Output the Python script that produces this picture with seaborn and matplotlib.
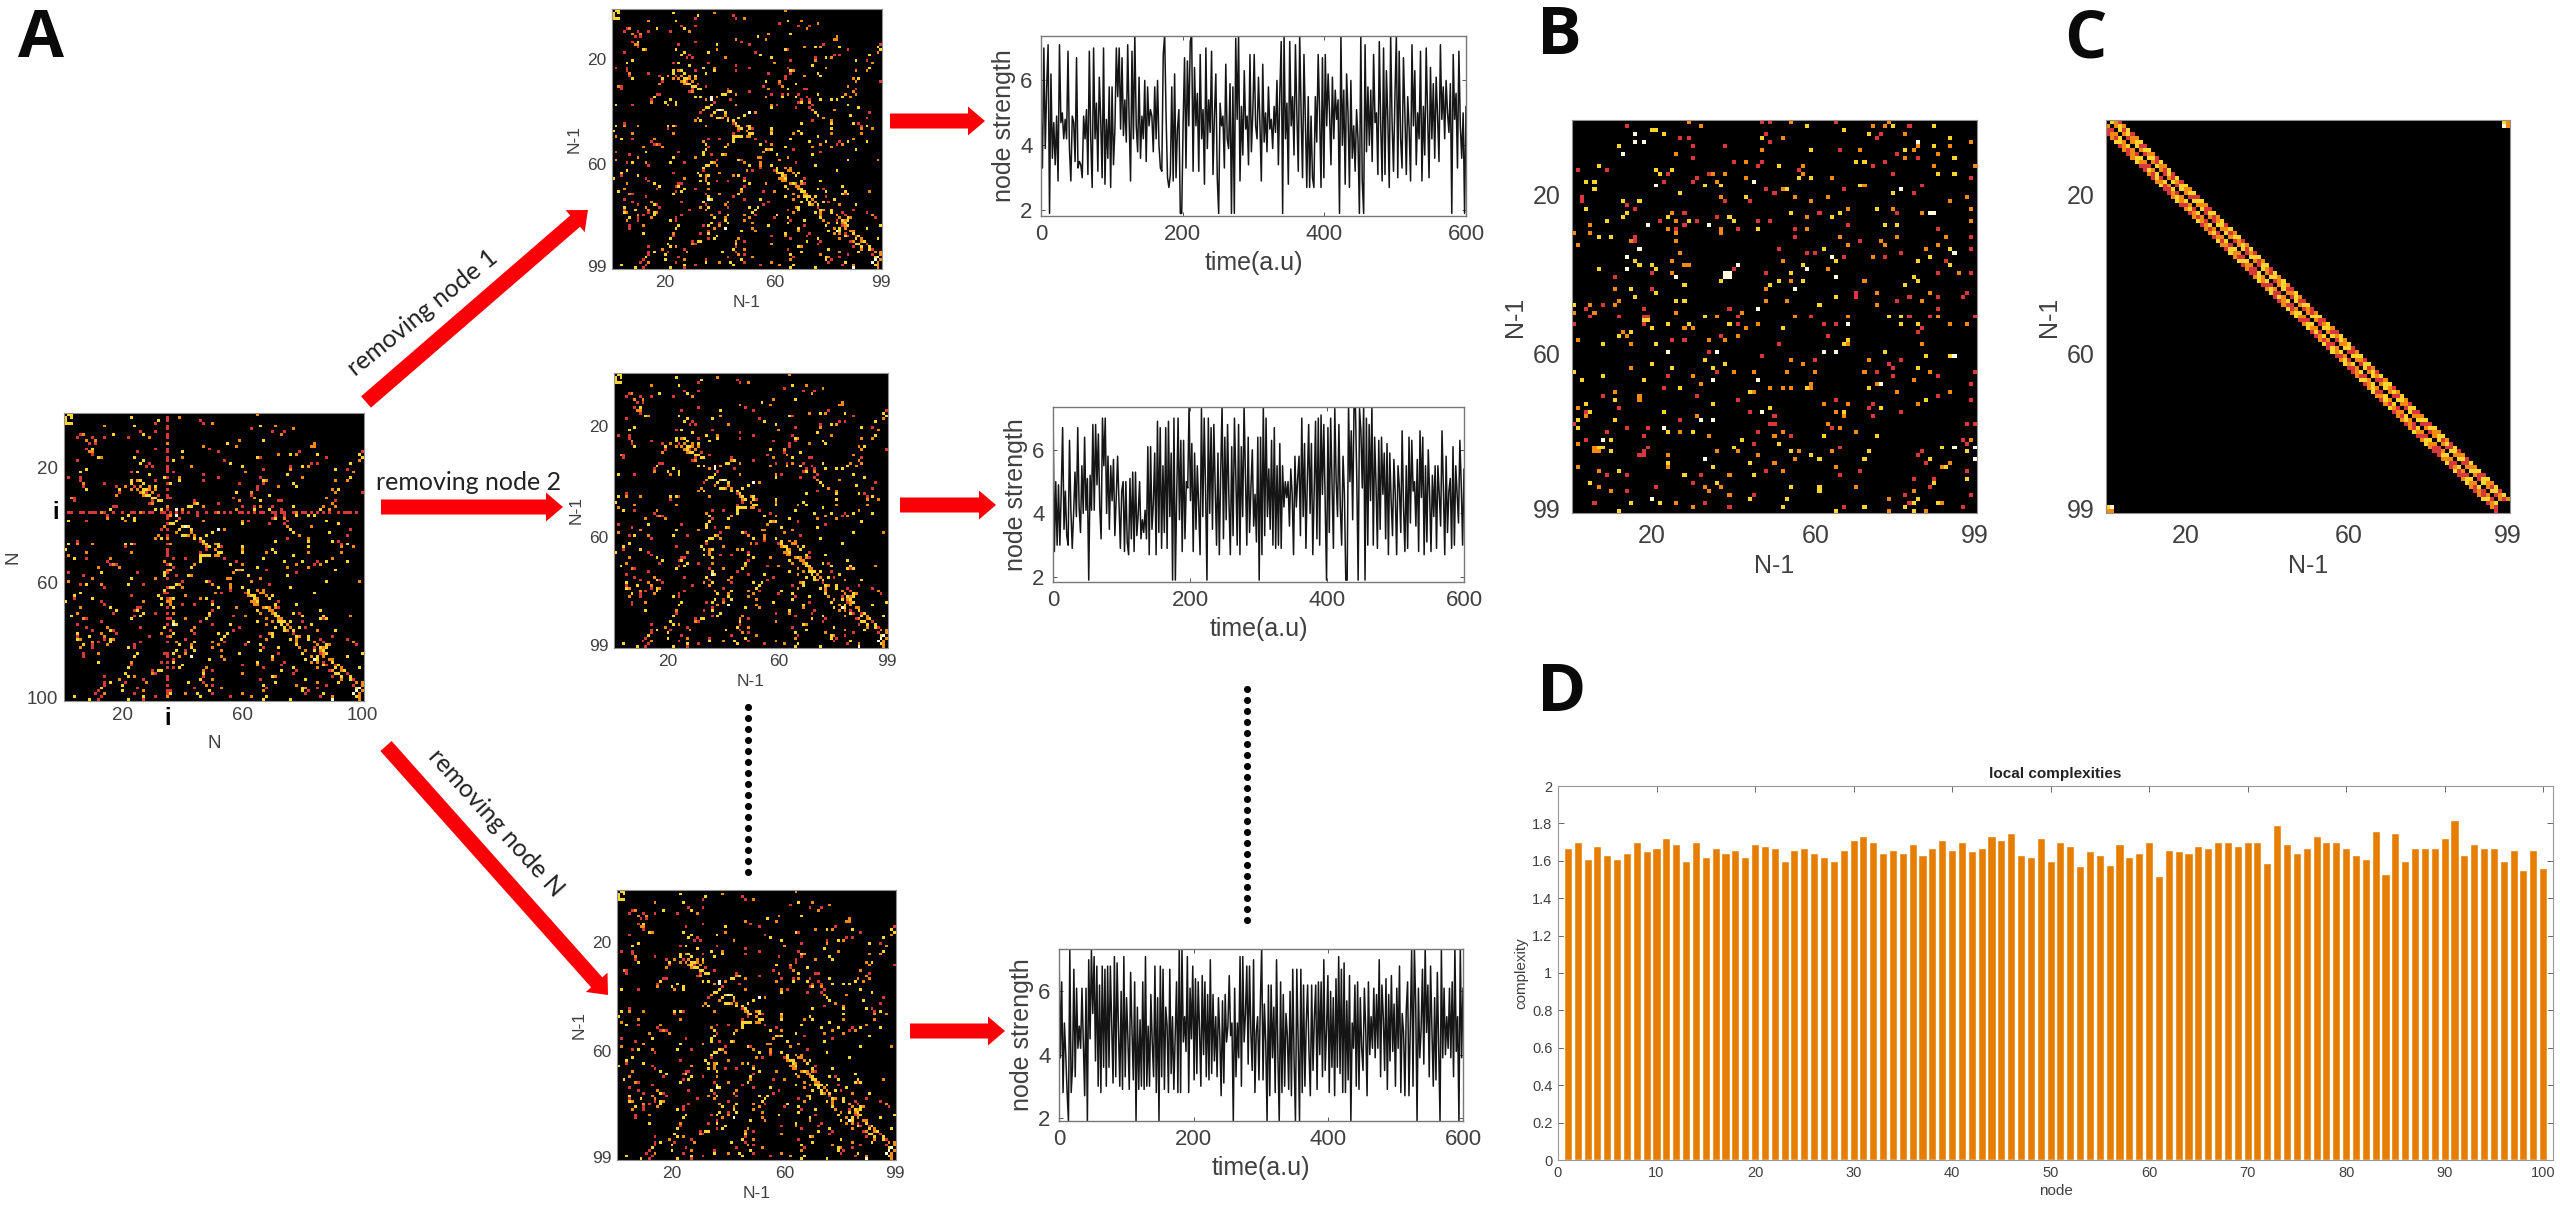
# Node removal figure: panels A-D
import numpy as np
import pandas as pd
import matplotlib
matplotlib.use('Agg')
import matplotlib.pyplot as plt
from matplotlib.colors import ListedColormap
from matplotlib.patches import FancyArrow
import seaborn as sns

sns.set_theme(style='white')
plt.rcParams['font.family'] = ['Liberation Sans', 'DejaVu Sans']

W, H = 2560, 1212
GREY = '#404040'

# Panel D
nodes = list(range(1, 101))
complexity = [1.67, 1.70, 1.61, 1.68, 1.63, 1.61, 1.64, 1.70, 1.65, 1.67,
              1.72, 1.69, 1.60, 1.70, 1.62, 1.67, 1.64, 1.66, 1.62, 1.69,
              1.68, 1.67, 1.60, 1.66, 1.67, 1.64, 1.62, 1.60, 1.66, 1.71,
              1.73, 1.70, 1.64, 1.66, 1.64, 1.69, 1.63, 1.67, 1.71, 1.66,
              1.70, 1.65, 1.67, 1.73, 1.71, 1.75, 1.63, 1.62, 1.72, 1.60,
              1.70, 1.68, 1.57, 1.65, 1.63, 1.58, 1.69, 1.62, 1.64, 1.70,
              1.52, 1.66, 1.65, 1.64, 1.68, 1.67, 1.70, 1.70, 1.68, 1.70,
              1.70, 1.59, 1.79, 1.69, 1.64, 1.67, 1.73, 1.70, 1.70, 1.67,
              1.63, 1.61, 1.76, 1.53, 1.75, 1.60, 1.67, 1.67, 1.67, 1.72,
              1.82, 1.63, 1.69, 1.67, 1.67, 1.60, 1.66, 1.55, 1.66, 1.56]

# Node strength traces, one value every 2 time steps
strength_1 = [
    5.0, 3.3, 7.0, 3.9, 5.8, 7.1, 1.9, 6.2, 3.6, 4.7, 3.4, 4.9, 2.9, 7.1, 4.7, 5.0, 4.2, 4.8, 4.2, 6.9, 3.9, 2.9, 4.9, 4.7, 3.5, 6.7, 3.3, 3.5, 3.4, 3.0,
    4.9, 4.2, 5.1, 3.1, 6.9, 4.2, 2.7, 7.0, 4.2, 5.3, 3.2, 6.1, 4.8, 3.0, 7.0, 2.8, 4.8, 3.6, 5.8, 2.7, 5.8, 3.4, 4.5, 7.0, 5.5, 7.0, 4.5, 6.7, 4.3, 5.4,
    4.1, 7.1, 4.8, 2.9, 6.9, 4.2, 7.4, 4.6, 3.8, 6.1, 3.6, 4.9, 4.2, 6.0, 3.5, 5.8, 4.6, 5.1, 4.9, 3.8, 5.8, 4.2, 6.0, 4.0, 3.3, 3.2, 6.8, 7.4, 4.9, 3.0,
    2.7, 3.1, 5.8, 2.9, 6.2, 3.0, 4.5, 5.1, 1.9, 1.9, 4.7, 6.7, 3.3, 6.6, 4.6, 7.2, 7.4, 3.2, 6.4, 4.6, 5.6, 3.2, 6.8, 4.2, 5.1, 2.8, 7.0, 3.9, 5.4, 4.4,
    6.9, 3.1, 4.9, 6.2, 3.0, 1.9, 5.3, 4.6, 4.9, 3.3, 6.5, 4.2, 3.9, 5.9, 1.9, 5.8, 1.9, 7.3, 4.8, 7.4, 2.9, 5.2, 3.7, 6.3, 4.5, 4.9, 3.4, 6.8, 3.8, 5.0,
    6.8, 4.6, 4.2, 6.1, 4.7, 2.9, 6.5, 4.1, 5.0, 3.8, 5.8, 4.5, 4.8, 3.9, 5.2, 4.4, 6.0, 3.4, 5.6, 7.2, 1.9, 7.4, 4.2, 5.3, 2.8, 7.2, 4.6, 5.5, 3.7, 7.1,
    5.0, 3.2, 7.4, 5.0, 3.0, 6.8, 4.8, 2.7, 5.5, 2.7, 4.9, 3.0, 2.7, 5.5, 4.1, 6.8, 5.0, 2.7, 6.7, 3.0, 6.8, 4.6, 6.2, 5.0, 3.4, 6.1, 4.2, 5.7, 4.8, 5.4,
    1.9, 7.4, 4.0, 5.7, 2.8, 6.2, 5.0, 2.7, 6.0, 3.6, 4.6, 3.2, 5.1, 4.2, 1.9, 7.4, 2.9, 1.9, 7.1, 3.8, 5.8, 4.0, 5.7, 3.5, 6.8, 4.7, 5.0, 3.1, 7.2, 4.6,
    2.9, 7.0, 3.1, 6.3, 4.8, 2.7, 7.4, 4.7, 3.2, 5.5, 7.4, 3.0, 6.9, 4.2, 3.3, 6.7, 5.0, 3.1, 5.5, 4.5, 2.9, 7.1, 4.6, 6.3, 3.4, 5.0, 4.2, 6.9, 2.9, 5.2,
    3.7, 7.0, 4.9, 3.0, 6.4, 4.2, 5.9, 3.6, 6.1, 4.9, 3.5, 7.1, 4.8, 5.8, 4.2, 6.0, 5.0, 4.4, 5.9, 1.9, 6.8, 4.8, 5.6, 3.3, 6.9, 4.6, 3.6, 5.0, 1.9, 5.2]
strength_2 = [
    7.3, 2.8, 5.0, 3.0, 4.9, 3.0, 4.7, 6.7, 3.5, 4.7, 3.3, 3.0, 6.3, 4.1, 2.9, 4.0, 5.3, 3.9, 6.7, 4.2, 3.4, 5.5, 4.0, 6.4, 4.1, 5.1, 1.9, 5.2, 4.1, 6.8,
    4.1, 6.8, 4.9, 6.5, 4.2, 3.2, 7.0, 5.5, 7.0, 4.0, 5.8, 3.5, 5.5, 4.4, 5.7, 3.3, 4.5, 5.8, 4.3, 2.9, 4.7, 5.0, 2.8, 5.0, 3.1, 2.7, 5.1, 3.2, 5.3, 2.8,
    5.3, 3.3, 4.0, 5.0, 3.2, 3.8, 3.4, 4.1, 3.2, 6.1, 2.7, 6.1, 3.5, 4.3, 5.9, 2.7, 6.9, 3.4, 6.7, 2.9, 5.5, 3.4, 6.7, 2.9, 6.9, 3.9, 5.9, 1.9, 7.0, 1.9,
    4.6, 7.0, 3.8, 6.3, 2.8, 6.3, 3.2, 5.0, 4.8, 7.4, 4.4, 6.2, 2.8, 5.9, 3.5, 5.5, 4.2, 2.7, 7.3, 3.9, 7.0, 4.7, 1.9, 7.0, 4.0, 6.7, 3.5, 6.8, 4.8, 3.0,
    5.9, 2.7, 5.3, 7.4, 3.2, 6.4, 3.8, 6.8, 4.4, 2.7, 6.1, 3.3, 7.0, 5.2, 3.0, 6.8, 2.7, 6.1, 3.9, 7.4, 5.2, 3.0, 6.4, 3.4, 4.8, 6.0, 3.6, 4.6, 3.1, 6.4,
    1.9, 6.4, 2.7, 7.4, 3.3, 7.0, 3.9, 5.4, 3.5, 6.3, 3.0, 6.7, 2.9, 5.5, 3.0, 6.2, 2.9, 5.5, 4.2, 5.0, 4.5, 5.0, 3.6, 5.4, 4.6, 2.7, 5.8, 4.2, 5.1, 5.8,
    3.3, 7.0, 3.9, 6.2, 2.9, 5.0, 6.8, 4.0, 6.2, 2.7, 4.7, 6.9, 3.2, 7.0, 3.0, 7.1, 4.6, 6.8, 4.3, 1.9, 6.7, 3.4, 7.0, 5.0, 2.9, 7.3, 5.0, 3.9, 6.8, 4.2,
    3.0, 5.8, 4.6, 1.9, 1.9, 7.4, 5.0, 6.6, 3.8, 7.4, 7.4, 5.1, 1.9, 7.3, 6.6, 4.8, 7.4, 1.9, 7.0, 3.0, 6.8, 4.4, 7.4, 3.0, 6.4, 4.9, 2.9, 6.3, 3.5, 6.4,
    4.6, 5.9, 3.2, 6.2, 2.7, 5.9, 4.4, 3.3, 5.7, 4.6, 2.7, 5.5, 4.8, 3.4, 6.6, 4.2, 2.8, 5.5, 2.9, 6.4, 3.7, 6.3, 4.7, 5.0, 3.6, 5.7, 2.8, 6.6, 4.5, 6.4,
    2.7, 5.5, 3.1, 6.0, 4.6, 2.8, 5.2, 3.9, 5.5, 2.9, 5.5, 4.6, 3.6, 6.6, 4.8, 2.7, 5.8, 3.4, 4.7, 5.1, 2.9, 6.1, 3.0, 5.5, 4.6, 3.7, 6.3, 4.9, 3.0, 5.4]
strength_3 = [
    7.3, 3.9, 6.3, 2.8, 5.0, 4.0, 2.8, 1.9, 7.3, 2.8, 3.6, 6.7, 3.3, 6.1, 4.2, 4.9, 4.2, 6.1, 4.4, 2.7, 6.1, 1.9, 7.0, 4.5, 7.3, 5.3, 7.1, 3.8, 6.8, 3.0,
    6.2, 2.8, 6.8, 3.6, 6.7, 3.0, 6.8, 3.6, 6.8, 5.0, 3.1, 7.1, 3.3, 6.9, 4.8, 3.0, 6.0, 2.9, 7.1, 3.3, 5.8, 4.5, 2.9, 6.6, 4.8, 3.2, 6.3, 1.9, 5.5, 2.9,
    5.1, 3.0, 6.3, 2.9, 7.1, 3.0, 4.9, 3.0, 5.9, 4.4, 3.3, 6.8, 2.8, 5.8, 1.9, 6.8, 3.3, 6.7, 2.9, 5.5, 4.9, 2.8, 6.7, 3.4, 5.2, 2.9, 4.6, 6.3, 2.8, 7.4,
    2.8, 7.4, 4.4, 5.2, 4.1, 7.1, 2.8, 6.1, 4.5, 6.8, 3.2, 6.4, 3.4, 6.3, 4.8, 3.0, 6.5, 4.0, 6.3, 3.3, 5.9, 3.2, 7.0, 3.4, 5.9, 3.8, 5.2, 3.3, 5.8, 4.6,
    2.7, 5.7, 3.1, 5.9, 4.4, 4.9, 6.5, 4.6, 5.0, 1.9, 6.1, 3.3, 5.0, 3.9, 7.1, 3.0, 7.1, 4.4, 5.3, 6.8, 3.7, 6.8, 4.7, 3.5, 7.0, 2.8, 4.7, 5.2, 3.2, 5.6,
    7.4, 3.2, 5.6, 4.4, 1.9, 6.2, 2.7, 6.2, 3.9, 5.5, 2.8, 7.0, 4.0, 1.9, 6.3, 2.8, 5.9, 3.0, 5.3, 4.6, 2.9, 6.0, 2.7, 6.7, 3.8, 1.9, 6.7, 4.4, 1.9, 6.7,
    2.8, 6.2, 3.0, 5.0, 6.2, 4.1, 2.7, 6.2, 3.5, 5.2, 6.2, 2.9, 6.3, 4.0, 6.3, 3.3, 7.0, 3.5, 4.8, 6.5, 2.8, 6.0, 3.6, 5.8, 2.7, 6.4, 3.6, 7.1, 3.4, 6.7,
    2.8, 6.9, 2.8, 5.7, 3.2, 6.5, 1.9, 5.0, 4.2, 6.2, 3.0, 6.3, 2.9, 5.8, 4.2, 3.5, 6.1, 4.8, 2.7, 6.3, 4.0, 5.2, 4.2, 6.1, 3.9, 5.9, 4.2, 7.0, 3.3, 6.2,
    5.2, 3.5, 6.4, 2.9, 5.9, 3.8, 6.5, 4.1, 5.6, 3.0, 6.1, 4.2, 6.8, 2.8, 5.3, 4.7, 2.7, 5.4, 6.3, 2.7, 4.9, 7.3, 3.0, 7.4, 5.6, 1.9, 6.1, 3.9, 4.8, 6.7,
    3.7, 7.4, 4.7, 6.2, 3.3, 6.8, 4.8, 3.0, 5.8, 3.2, 6.6, 4.2, 1.9, 7.3, 3.9, 6.1, 4.0, 5.2, 4.2, 6.1, 3.9, 6.3, 3.3, 7.4, 4.1, 5.2, 1.9, 7.4, 3.9, 6.1]
times_1 = [i * 600 / (len(strength_1) - 1) for i in range(len(strength_1))]
times_2 = [i * 600 / (len(strength_2) - 1) for i in range(len(strength_2))]
times_3 = [i * 600 / (len(strength_3) - 1) for i in range(len(strength_3))]

# Panel B: columns holding a link in rows 1..99, and their colour level (1 red .. 4 pale)
b_cols = [
    [29, 47, 49, 54, 65, 78], [14, 32, 58, 74, 77, 79, 83, 89], [20, 21, 67], [16, 23, 48, 73, 76, 82],
    [27, 29, 47, 52, 75, 93], [16, 18, 49, 85, 98], [12, 30, 38, 85, 89, 93], [47, 59, 66, 71, 82, 84],
    [13, 26, 80, 90], [30, 82, 85, 94], [40, 43, 47, 70, 72, 77], [7, 46, 51, 57, 74, 89, 99],
    [2, 9, 21, 25, 56], [22, 24, 34, 35, 38, 57, 79, 90, 94], [31, 43, 56, 59, 64, 98], [4, 6, 23, 30, 36, 45],
    [21, 33, 37, 71, 72, 86], [6, 48, 52, 53, 67, 81, 85], [27, 50, 79, 84], [3, 37, 43, 55, 63, 97],
    [3, 13, 17, 38, 44, 59, 93], [14], [4, 16, 68, 75, 79, 98], [14, 25, 28, 54, 61, 66, 80, 86, 88, 89],
    [13, 24, 36, 39, 58, 64], [9, 22, 26, 29, 31, 40, 46, 49, 98], [5, 19, 28, 34, 68, 77, 80],
    [24, 26, 37, 41, 46, 55, 58, 90], [1, 5, 26, 37], [7, 10, 16, 55, 66, 80, 92, 98],
    [15, 16, 26, 71, 76], [2, 68, 77, 90], [17, 51, 62, 87, 93, 98], [27, 58, 60, 81, 94],
    [14, 64, 67, 74, 77, 88], [16, 25, 52, 65, 85, 92], [17, 20, 28, 29, 41, 57, 93], [7, 14, 21, 40, 58, 63],
    [20, 25, 38, 39, 48, 54, 90, 95, 98], [11, 26, 38, 39, 65, 84], [37, 51, 54, 57, 72, 85], [28, 49, 82],
    [11, 15, 20, 48, 55], [21, 70, 75, 88, 97], [16, 65, 70, 83, 90, 96], [12, 26, 28, 48, 53, 80, 86],
    [1, 5, 8, 11, 61, 75], [4, 18, 39, 46, 90], [1, 6, 26, 42],
    [5, 12, 18, 19, 33, 36, 41, 55, 59, 68, 78, 81, 83, 88, 90, 99],
    [18, 19], [1, 18, 24, 29, 39, 41, 46, 62, 65, 68, 81, 85, 93, 97], [20, 28, 30, 43, 52, 86], [13, 15, 85],
    [12, 14, 37, 41, 63], [2, 25, 28, 34, 38, 68], [8, 15, 21, 51, 67, 68, 86], [], [24, 34, 36, 62, 65, 77],
    [47, 87, 93, 94], [33, 54, 60, 73, 81], [20, 38, 57, 78], [15, 25, 35, 79, 85],
    [1, 36, 40, 45, 53, 60, 72, 75, 88, 99], [8, 24, 30, 79, 90], [3, 18, 35, 46, 84],
    [32, 59, 75, 76, 98], [23, 27, 49, 52, 54, 58, 59, 73], [11, 44, 45, 80, 93], [8, 17, 31, 90],
    [11, 17, 41, 65, 87, 98], [4, 35, 62, 68, 74, 85], [2, 12, 49, 73, 76], [4, 5, 23, 44, 47, 65, 67, 81],
    [4, 31, 50, 67, 74], [2, 11, 27, 32, 35, 60], [1, 49, 50, 63, 97, 99], [2, 14, 19, 23, 64, 66],
    [9, 24, 27, 30, 46, 52, 70], [18, 34, 50, 54, 62, 75], [4, 8, 10, 42, 96, 98], [2, 45, 51, 97],
    [6, 7, 8, 19, 40, 66, 91, 94, 99], [6, 7, 10, 18, 36, 41, 54, 56, 64, 73, 86, 97],
    [17, 18, 24, 46, 59, 85], [33, 55, 61, 72, 88, 99], [24, 44, 50, 87, 93], [2, 24, 35, 65, 91, 92],
    [7, 12, 48, 52, 71, 97], [9, 14, 28, 32, 39, 45, 66], [84, 89, 97], [5, 30, 36, 89],
    [7, 21, 33, 37, 54, 61, 70, 88], [10, 14, 34, 61, 84], [39, 45, 82, 98], [20, 44, 53, 78, 85],
    [6, 15, 22, 26, 33, 83, 84, 90, 91], [30, 39, 52, 67, 72, 82, 96], [12, 65, 78, 84, 87]]
b_lvls = [
    '211212', '12322313', '333', '431312', '113213', '44142', '311232', '231232',
    '4212', '1213', '121331', '3132122', '11331', '311222133', '123321', '331124',
    '433321', '312314', '3131', '123222', '1331122', '1', '312322',
    '3213131244', '331323', '312313112', '2414133', '21213121',
    '2222', '33112221', '21212', '2222', '413231',
    '21114', '441213', '322331', '3322433', '343142', '124413121', '144443',
    '332323', '333', '23124', '31221', '331111', '2332212',
    '321232', '11141', '2222', '1111321212331121', '33', '11333121143322',
    '322231', '231', '32121', '211223', '3231322', '', '414443', '1334', '32121', '3321',
    '23313', '3122222121', '31211', '33442', '22241', '13222323', '23222', '1211',
    '321131', '332212', '21313', '13314231',
    '22121', '33144', '111211', '311412', '1323122',
    '122133', '143312', '2131', '233131344',
    '223122322313', '112231', '423334', '33212', '223223',
    '231211', '1131231', '113', '3133',
    '21223321', '21232', '2111', '43323', '133211332', '2131331', '33232']

# Panel C: levels along the two stripes next to the diagonal
c_upper_1 = '323212321323212313213231213232123132132312321321232132312313213231232132132312123213231232132312'
c_upper_2 = '231323132312131232313213123213231231321323123132131231232313231321323132312313231313231231321321'
c_lower_1 = '212323213212313231232132132123132132132312123123213213212321323123213231232132132123213213231213'
c_lower_2 = '121321232131321123213212213212321321132131321132132321132132121323123122132121321132121132121321'
c_corner = [3, 2, 4, 2]

# Panel A: base network, same layout as panel B
a_cols = [
    [2, 3, 65], [1, 3, 23, 39], [1, 32, 46], [1, 2, 3, 31, 47, 50], [14, 24, 66, 71], [63, 77], [26, 31, 70, 74],
    [6, 7, 17, 27, 73], [5, 10, 14, 22, 29], [8, 11, 59, 67], [9, 11, 55, 84], [47, 58, 83, 84], [8, 10, 31, 49],
    [9, 10, 25, 40, 52, 79, 100], [10, 72, 76, 78, 85, 99], [12, 13, 24, 40, 65, 66, 88, 100], [5, 27, 37, 54, 99],
    [26, 29, 56, 83, 85, 96], [28, 30, 43, 60, 76, 80, 82], [8, 67, 76, 91, 95], [6, 23, 25, 37, 61, 97],
    [29, 47, 75], [2, 6, 34, 39, 52, 66, 80, 96], [6, 23, 25, 26, 31, 39, 47, 67, 68, 91, 95], [7, 14, 23, 27, 36, 59, 67, 77, 83],
    [7, 18, 21, 24, 26, 29, 31, 65, 72, 78], [8, 19, 23, 25, 27, 28, 29, 31, 65, 90, 92], [19, 26, 27, 28, 30, 58, 63, 91, 100],
    [18, 27, 28, 29, 32, 63, 69], [3, 4, 30, 31, 36, 57, 64, 88], [4, 30, 32, 33, 44, 59, 66, 72, 73, 91], [29, 30, 44, 45, 52, 90],
    [17, 18, 42, 43, 47, 60, 64, 66, 70, 77, 87, 91], [16, 31, 33, 38, 40, 58, 64, 69, 73, 86, 89], [], [15, 22, 36, 38, 45, 71, 74, 78, 82, 84],
    [15, 20, 24, 39, 70, 71, 74], [2, 8, 21, 24, 38, 47, 60, 62, 75, 88], [36, 37, 60, 69, 74, 92], [34, 40, 41, 42, 75, 83],
    [33, 39, 43, 52, 54, 76, 96], [38, 43, 50, 77, 89], [32, 40, 41, 42, 44, 48, 79, 95], [31, 33, 44, 46, 75, 82], [5, 46, 47, 71, 82, 90, 92],
    [2, 5, 10, 21, 23, 24, 36, 47, 48, 51, 52, 93, 95], [21, 48, 49, 52, 53, 60, 82, 93, 97], [1, 48, 51, 60, 70], [8, 23, 46, 52, 53, 60, 68, 71, 82, 93],
    [2, 46, 47, 48, 49, 51, 52, 77], [4, 8, 16, 37, 41, 46, 54, 67, 90], [15, 34, 46, 58, 74, 80, 85, 88, 95], [16, 17, 18, 36, 44, 56, 60, 78, 84, 86], [12, 19, 37, 43, 65, 75, 82],
    [36, 58, 59, 60, 68, 91], [2, 13, 25, 34, 57, 78], [7, 34, 38, 42, 43, 62, 75], [10, 23, 31, 55, 56, 66], [2, 40, 48, 49, 63, 88, 99], [6, 8, 13, 22, 27, 38, 39, 50, 56, 69],
    [14, 36, 37, 40, 52, 56, 60, 76], [34, 56, 62, 65, 67], [6, 34, 51, 53, 61, 62, 66, 67, 84], [4, 23, 32, 41, 62, 63, 64, 68, 70], [4, 10, 33, 36, 37, 46, 48, 64, 65, 69],
    [1, 13, 27, 36, 50, 63, 64, 65, 72], [14, 33, 36, 40, 44, 50, 64, 65, 71, 78], [6, 16, 25, 26, 37, 52, 58, 67, 68, 69, 71, 72], [18, 24, 25, 50, 65, 69, 70, 86], [5, 17, 27, 31, 37, 49, 66, 70, 71, 77, 79],
    [3, 24, 26, 49, 57, 61, 71, 72, 80, 87, 96], [7, 8, 23, 36, 41, 48, 68, 72, 73, 86, 87, 88], [13, 37, 46, 65, 70, 72, 73, 74, 76, 80], [5, 37, 38, 50, 56, 68, 73, 75, 83], [8, 15, 26, 34, 44, 59, 71, 74, 76, 79, 81],
    [10, 16, 17, 36, 43, 57, 74, 75, 77, 85, 91], [5, 13, 18, 33, 37, 44, 52, 55, 69, 70, 77, 78, 80, 95], [5, 9, 14, 29, 36, 54, 66, 70, 78, 79, 82, 90], [5, 6, 14, 16, 17, 41, 53, 68, 76, 78, 82, 86, 95], [10, 12, 16, 26, 38, 44, 50, 54, 62, 78, 84, 87, 97],
    [7, 10, 15, 24, 39, 43, 52, 61, 66, 78, 85, 88, 89, 98], [6, 10, 22, 24, 43, 50, 67, 72, 79, 84, 86, 87, 88], [38, 41, 44, 53, 66, 81, 84, 86, 87], [7, 12, 25, 34, 37, 41, 59, 72, 80, 86, 87, 88, 100], [7, 24, 39, 43, 53, 70, 83, 85, 87, 95],
    [37, 49, 54, 70, 81, 84, 85, 89, 90], [12, 23, 33, 37, 65, 74, 83, 85, 87, 90], [23, 40, 60, 65, 73, 87, 88, 91, 92], [22, 37, 39, 48, 67, 77, 85, 91, 93, 99], [30, 32, 33, 47, 50, 73, 78, 89, 90, 93, 94],
    [21, 30, 31, 47, 60, 77, 91, 92, 95], [14, 22, 24, 47, 70, 71, 90, 93, 96], [19, 27, 46, 50, 66, 81, 93, 96, 97], [14, 16, 21, 28, 42, 47, 71, 85, 92, 98, 100], [14, 20, 48, 50, 67, 78, 88, 97, 100],
    [13, 25, 44, 53, 68, 80, 81, 85, 98, 99], [12, 20, 27, 36, 49, 67, 80, 82, 98, 100], [11, 14, 24, 36, 41, 45, 50, 60, 81, 87, 97, 99], [4, 13, 27, 31, 46, 56, 63, 68, 86, 90, 98, 99], [9, 12, 22, 27, 67, 76, 90, 99]]
a_lvls = [
    '332', '3332', '331', '333112', '2332', '12', '1111', '12332', '11112', '2223', '1132', '2222', '1311', '2213111',
    '123233', '32323113', '13312', '313113', '1123132', '31231', '313122', '313', '11321123',
    '13231313222', '213331130', '1121223123', '33223322123', '123123221', '2233113', '21331122', '1133123111', '122312',
    '113321121322', '33342233132', '', '1324111333', '2331132', '3123322113', '333113', '234322',
    '1334231', '22333', '23322321', '233312', '1133331', '3223312232313', '123313322', '31223', '2213332322',
    '23333223', '312113132', '123133133', '1213232212', '2213322', '332313', '131321', '1313233', '232222', '2131232', '1323132221',
    '13323233', '31322', '312113223', '313223323', '1332323323',
    '312212231', '1321132233', '231133223221', '31313223', '21312322331', '31321233332', '213123222313', '1313233331', '143132323', '12132133231',
    '13112132323', '32123133231', '132123133231', '3213213232311', '2131232132212', '31213221332321', '2131321321323', '313232323', '1231323131233', '1324232323',
    '132234322', '3213312213', '131213113', '3132132323', '13321311223',
    '321321331', '132132133', '213213231', '13123132322', '132132112', '3112132134', '1321323142', '121323121342', '313131231232', '31313342']

# The red cross of node i in panel A
node_i = 35
cross_cols = [2, 3, 6, 7, 9, 10, 11, 13, 14, 17, 20, 23, 24, 26, 27, 29, 30, 33, 34, 36, 38, 40, 42, 45, 48, 51, 52, 54, 56, 59, 60, 62, 64, 66, 67, 70, 71, 73, 74, 77, 78, 80, 81, 83, 85, 87, 89, 92, 94, 95, 96, 98]
cross_rows = [2, 3, 5, 6, 8, 9, 11, 13, 14, 16, 17, 19, 20, 21, 23, 25, 27, 29, 30, 33, 34, 36, 37, 39, 41, 43, 44, 46, 48, 49, 50, 53, 55, 56, 58, 61, 63, 65, 66, 68, 70, 72, 74, 78, 80, 84, 85, 87, 89, 92, 93, 95, 97, 98, 99]

hot_levels = ListedColormap(['#000000', '#d8383c', '#f58a12', '#fbd52e', '#fffbdc'])


def px_axes(fig, x0, y0, x1, y1):
    return fig.add_axes([x0 / W, 1 - y1 / H, (x1 - x0) / W, (y1 - y0) / H])


def build_matrix(cols, lvls, n):
    mat = np.zeros((n, n))
    for r, (row_cols, row_lvls) in enumerate(zip(cols, lvls)):
        for c, lv in zip(row_cols, row_lvls):
            if r < n and c <= n:
                mat[r, c - 1] = int(lv)
    return mat


def band_matrix(n):
    mat = np.zeros((n, n))
    for offset, text in [(1, c_upper_1), (2, c_upper_2), (3, c_upper_2[::-1]),
                         (-1, c_lower_1), (-2, c_lower_2), (-3, c_lower_2[::-1])]:
        for k, lv in enumerate(text):
            r = k if offset > 0 else k - offset
            c = k + offset if offset > 0 else k
            if r < n and c < n:
                mat[r, c] = int(lv)
    # wrap around corners
    for k, lv in enumerate(c_corner):
        mat[k // 2, n - 2 + k % 2] = lv
        mat[n - 2 + k % 2, k // 2] = lv
    return mat


def draw_matrix(fig, box, mat, ticks, labels, xlabel, ylabel, size, pad=4):
    ax = px_axes(fig, *box)
    sns.heatmap(mat, ax=ax, cmap=hot_levels, vmin=0, vmax=4, cbar=False,
                xticklabels=False, yticklabels=False)
    ax.set_xticks(np.array(ticks) - 0.5)
    ax.set_yticks(np.array(ticks) - 0.5)
    ax.set_xticklabels(labels, rotation=0)
    ax.set_yticklabels(labels, rotation=0, va='center')
    ax.tick_params(length=0, labelsize=size, labelcolor=GREY, pad=pad)
    ax.set_xlabel(xlabel, fontsize=size, color=GREY, labelpad=4)
    ax.set_ylabel(ylabel, fontsize=size, color=GREY, labelpad=4)
    for sp in ax.spines.values():
        sp.set_visible(True)
        sp.set_color('#909090')
        sp.set_linewidth(0.8)
    return ax


def draw_trace(fig, box, times, values, ylim):
    ax = px_axes(fig, *box)
    sns.lineplot(x=times, y=values, ax=ax, color='#151515', lw=1.1, estimator=None)
    ax.set_xlim(0, 600)
    ax.set_ylim(*ylim)
    ax.set_xticks([0, 200, 400, 600])
    ax.set_yticks([2, 4, 6])
    ax.tick_params(direction='in', length=3, width=0.7, color='#555555', labelsize=16,
                   labelcolor=GREY, pad=6, left=True, bottom=True, top=True, right=True)
    ax.set_xlabel('time(a.u)', fontsize=18, color=GREY, labelpad=4)
    ax.set_ylabel('node strength', fontsize=18, color=GREY, labelpad=3)
    for sp in ax.spines.values():
        sp.set_visible(True)
        sp.set_color('#777777')
        sp.set_linewidth(1.0)
    return ax


fig = plt.figure(figsize=(W / 100, H / 100), dpi=100, facecolor='white')

# Panel A main matrix
mat_a = build_matrix(a_cols, a_lvls, 100)
for c in cross_cols:
    mat_a[node_i - 1, c - 1] = 2 if c % 13 == 0 else 1
for r in cross_rows:
    mat_a[r - 1, node_i - 1] = 2 if r % 11 == 0 else 1
ax_a = draw_matrix(fig, (64, 413, 364, 701), mat_a, [20, 35, 60, 100], ['20', 'i', '60', '100'], 'N', 'N', 13.5)
for lab in ax_a.get_xticklabels() + ax_a.get_yticklabels():
    if lab.get_text() == 'i':
        lab.set_fontweight('bold')
        lab.set_color('black')
        lab.set_fontsize(17)

# Panels with one node removed
mat_base = build_matrix(a_cols, a_lvls, 100)
mat_removed = np.delete(np.delete(mat_base, node_i - 1, axis=0), node_i - 1, axis=1)
for box in [(612, 9, 882, 269), (614, 373, 888, 648), (617, 890, 896, 1160)]:
    draw_matrix(fig, box, mat_removed, [20, 60, 99], ['20', '60', '99'], 'N-1', 'N-1', 12.5)

# Traces
draw_trace(fig, (1041, 36, 1466, 216), times_1, strength_1, (1.82, 7.37))
draw_trace(fig, (1053, 407, 1464, 582), times_2, strength_2, (1.84, 7.35))
draw_trace(fig, (1059, 949, 1463, 1121), times_3, strength_3, (1.9, 7.34))

# Panels B and C
mat_b = build_matrix(b_cols, b_lvls, 99)
draw_matrix(fig, (1572, 120, 1977, 513), mat_b, [20, 60, 99], ['20', '60', '99'], 'N-1', 'N-1', 18, pad=8)
draw_matrix(fig, (2106, 120, 2510, 513), band_matrix(99), [20, 60, 99], ['20', '60', '99'], 'N-1', 'N-1', 18, pad=8)

# Panel D
ax_d = px_axes(fig, 1558, 786, 2553, 1160)
df_d = pd.DataFrame({'node': nodes, 'complexity': complexity})
sns.barplot(data=df_d, x='node', y='complexity', ax=ax_d, native_scale=True, color='#e67e06', saturation=1, width=0.82)
ax_d.set_xlim(0, 101)
ax_d.set_ylim(0, 2)
ax_d.set_xticks(range(0, 101, 10))
ax_d.set_yticks(np.arange(0, 2.01, 0.2))
ax_d.set_yticklabels(['0', '0.2', '0.4', '0.6', '0.8', '1', '1.2', '1.4', '1.6', '1.8', '2'])
ax_d.tick_params(direction='in', length=4, width=0.7, color='#666666', labelsize=10.5, labelcolor=GREY,
                 left=True, bottom=True, top=True, right=True, pad=4)
ax_d.set_xlabel('node', fontsize=11, color=GREY, labelpad=3)
ax_d.set_ylabel('complexity', fontsize=11, color=GREY, labelpad=3)
ax_d.set_title('local complexities', fontsize=11, fontweight='bold', color='#222222', pad=6)
for sp in ax_d.spines.values():
    sp.set_visible(True)
    sp.set_color('#999999')
    sp.set_linewidth(0.8)

# Overlay for arrows and captions
ov = fig.add_axes([0, 0, 1, 1], zorder=10)
ov.set_xlim(0, W)
ov.set_ylim(H, 0)
ov.axis('off')
ov.patch.set_alpha(0)

arrows = [(366, 402, 588, 210), (381, 507, 563, 507), (386, 746, 608, 995),
          (890, 121, 985, 121), (900, 505, 996, 505), (910, 1031, 1005, 1031)]
for x0, y0, x1, y1 in arrows:
    ov.add_patch(FancyArrow(x0, y0, x1 - x0, y1 - y0, width=15, head_width=29, head_length=17,
                            length_includes_head=True, color='#fb0007', lw=0))

ov.text(423, 313, 'removing node 1', rotation=39, fontsize=18, family='Lato', color='#222222', ha='center', va='center')
ov.text(469, 482, 'removing node 2', fontsize=18, family='Lato', color='#222222', ha='center', va='center')
ov.text(496, 823, 'removing node N', rotation=-48, fontsize=18, family='Lato', color='#222222', ha='center', va='center')

dots_x1 = [748] * 16
dots_y1 = list(range(707, 877, 11))
dots_x2 = [1247] * 22
dots_y2 = list(range(689, 931, 11))
ov.scatter(dots_x1, dots_y1, s=26, color='black', lw=0)
ov.scatter(dots_x2, dots_y2, s=26, color='black', lw=0)

for letter, x, y in [('A', 18, 57), ('B', 1537, 54), ('C', 2064, 57), ('D', 1537, 711)]:
    ov.text(x, y, letter, fontsize=48, fontweight='bold', family='Open Sans', color='#0a0a0a', va='baseline', ha='left')

fig.savefig('out.png', dpi=100)
